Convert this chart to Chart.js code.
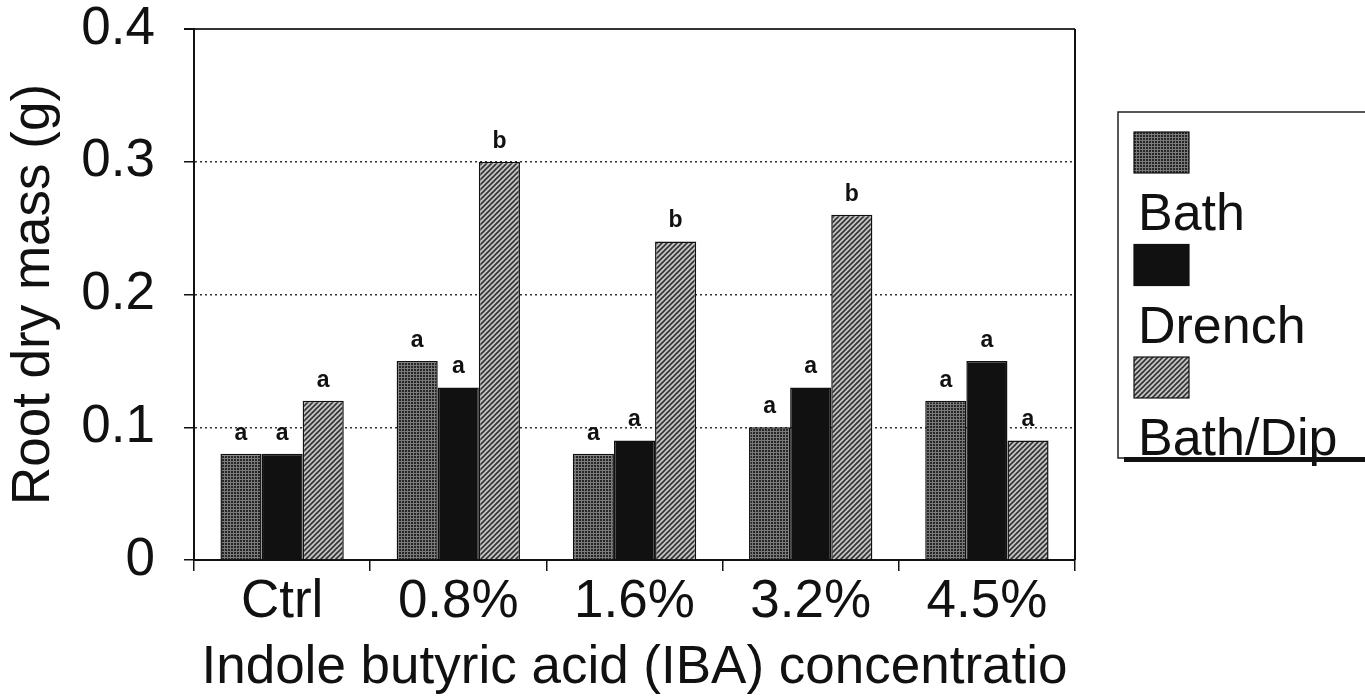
<!DOCTYPE html>
<html>
<head>
<meta charset="utf-8">
<title>Root dry mass</title>
<script src="https://cdn.jsdelivr.net/npm/chart.js@4.4.1/dist/chart.umd.min.js"></script>
<style>
  html, body { margin: 0; padding: 0; background: #fff; }
  #wrap { width: 1365px; height: 697px; }
</style>
</head>
<body>
<div id="wrap"><canvas id="canvas" width="1365" height="697"></canvas></div>
<script>
'use strict';

var categories = ['Ctrl', '0.8%', '1.6%', '3.2%', '4.5%'];
var seriesNames = ['Bath', 'Drench', 'Bath/Dip'];
var bathValues = [0.08, 0.15, 0.08, 0.10, 0.12];
var drenchValues = [0.08, 0.13, 0.09, 0.13, 0.15];
var bathDipValues = [0.12, 0.30, 0.24, 0.26, 0.09];
var bathLetters = ['a', 'a', 'a', 'a', 'a'];
var drenchLetters = ['a', 'a', 'a', 'a', 'a'];
var bathDipLetters = ['a', 'b', 'b', 'b', 'a'];
var yTickLabels = ['0', '0.1', '0.2', '0.3', '0.4'];

var FONT = "'Liberation Sans', Arial, sans-serif";

// stippled grey for Bath
function dotPattern() {
    var c = document.createElement('canvas');
    c.width = 3; c.height = 3;
    var g = c.getContext('2d');
    g.fillStyle = '#7a7a7a';
    g.fillRect(0, 0, 3, 3);
    g.fillStyle = '#262626';
    g.fillRect(0, 0, 2, 2);
    return g.createPattern(c, 'repeat');
}

// diagonal hatch for Bath/Dip
function hatchPattern() {
    var c = document.createElement('canvas');
    c.width = 5; c.height = 5;
    var g = c.getContext('2d');
    g.fillStyle = '#c4c4c4';
    g.fillRect(0, 0, 5, 5);
    g.strokeStyle = '#333';
    g.lineWidth = 1.6;
    g.beginPath();
    g.moveTo(-1, 6); g.lineTo(6, -1);
    g.moveTo(-1, 1); g.lineTo(1, -1);
    g.moveTo(4, 6); g.lineTo(6, 4);
    g.stroke();
    return g.createPattern(c, 'repeat');
}

var fills = [dotPattern(), '#111111', hatchPattern()];

var letterPlugin = {
    id: 'letters',
    afterDatasetsDraw: function (chart) {
        var ctx = chart.ctx;
        ctx.save();
        ctx.font = 'bold 23px ' + FONT;
        ctx.fillStyle = '#111';
        ctx.textAlign = 'center';
        ctx.textBaseline = 'bottom';
        chart.data.datasets.forEach(function (ds, i) {
            chart.getDatasetMeta(i).data.forEach(function (bar, j) {
                ctx.fillText(ds.letters[j], bar.x, bar.y - 9);
            });
        });
        ctx.restore();
    }
};

var framePlugin = {
    id: 'frame',
    afterDraw: function (chart) {
        var ctx = chart.ctx;
        var a = chart.chartArea;
        ctx.save();
        ctx.strokeStyle = '#111';
        ctx.lineWidth = 2;
        ctx.beginPath();
        ctx.moveTo(a.right, a.top);
        ctx.lineTo(a.right, a.bottom);
        ctx.stroke();

        // legend box, swatch above each label
        ctx.lineWidth = 1.5;
        ctx.strokeStyle = '#222';
        ctx.strokeRect(1118, 112, 260, 346);
        ctx.fillStyle = '#111';
        ctx.fillRect(1124, 457, 250, 5);
        ctx.font = '52px ' + FONT;
        ctx.textAlign = 'left';
        ctx.textBaseline = 'alphabetic';
        chart.data.datasets.forEach(function (ds, i) {
            var top = 132 + i * 112.5;
            ctx.fillStyle = ds.backgroundColor;
            ctx.fillRect(1134, top, 55, 41);
            ctx.lineWidth = 1.2;
            ctx.strokeStyle = '#111';
            ctx.strokeRect(1134, top, 55, 41);
            ctx.fillStyle = '#111';
            ctx.fillText(ds.label, 1138, top + 98);
        });
        ctx.restore();
    }
};

function makeDataset(i, values, letters) {
    return {
        label: seriesNames[i],
        data: values,
        letters: letters,
        backgroundColor: fills[i],
        borderColor: '#111',
        borderWidth: 1.5,
        borderSkipped: 'bottom',
        categoryPercentage: 0.7,
        barPercentage: 1.0
    };
}

var ctx = document.getElementById('canvas').getContext('2d');
var myBar = new Chart(ctx, {
    type: 'bar',
    data: {
        labels: categories,
        datasets: [
            makeDataset(0, bathValues, bathLetters),
            makeDataset(1, drenchValues, drenchLetters),
            makeDataset(2, bathDipValues, bathDipLetters)
        ]
    },
    plugins: [letterPlugin, framePlugin],
    options: {
        responsive: false,
        animation: false,
        layout: { padding: { top: 29, right: 290, left: 0, bottom: 0 } },
        plugins: {
            legend: { display: false },
            tooltip: { enabled: false }
        },
        scales: {
            x: {
                grid: {
                    offset: true,
                    drawOnChartArea: false,
                    color: '#111',
                    tickLength: 11,
                    lineWidth: 1.5
                },
                border: { color: '#111', width: 2 },
                ticks: {
                    color: '#111',
                    font: { family: FONT, size: 53, lineHeight: 1 },
                    padding: 5,
                    maxRotation: 0
                },
                title: {
                    display: true,
                    text: 'Indole butyric acid (IBA) concentratio',
                    color: '#111',
                    font: { family: FONT, size: 53, lineHeight: 1 },
                    padding: { top: 0, bottom: 2 }
                },
                afterFit: function (scale) {
                    scale.height = 137;
                    scale.paddingLeft = 0;
                    scale.paddingRight = 0;
                }
            },
            y: {
                min: 0,
                max: 0.4,
                ticks: {
                    stepSize: 0.1,
                    color: '#111',
                    font: { family: FONT, size: 53 },
                    padding: 29,
                    callback: function (v, i) { return yTickLabels[i]; }
                },
                grid: {
                    color: '#333',
                    lineWidth: function (c) { return c.index === 4 ? 2 : 1.5; },
                    tickColor: '#111',
                    tickLength: 10,
                    tickBorderDash: []
                },
                border: {
                    color: '#111',
                    width: 2,
                    dash: function (c) { return (c.index === 0 || c.index === 4) ? [] : [2, 3]; }
                },
                title: {
                    display: true,
                    text: 'Root dry mass (g)',
                    color: '#111',
                    font: { family: FONT, size: 53, lineHeight: 1 },
                    padding: { top: 8, bottom: 0 }
                },
                afterFit: function (scale) {
                    scale.width = 194;
                    scale.paddingTop = 0;
                    scale.paddingBottom = 0;
                }
            }
        }
    }
});
</script>
</body>
</html>
